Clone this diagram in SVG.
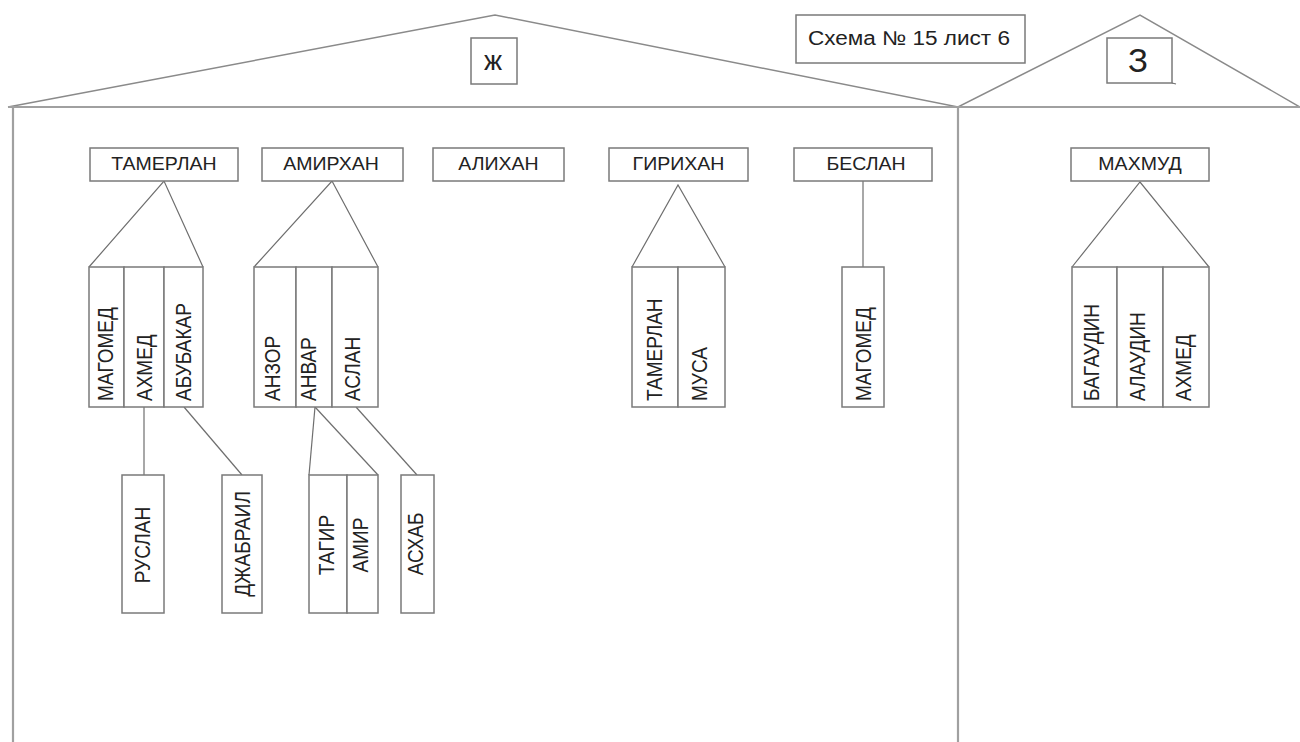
<svg xmlns="http://www.w3.org/2000/svg" width="1300" height="742" viewBox="0 0 1300 742">
<style>
.bg{fill:#fff}
.frame{fill:none;stroke:#8a8a8a;stroke-width:1.5}
.wall{fill:none;stroke:#a0a0a0;stroke-width:2.2}
.box{fill:#fff;stroke:#7a7a7a;stroke-width:1.5}
.ln{fill:none;stroke:#6e6e6e;stroke-width:1.2}
.t{font-family:"Liberation Sans",Arial,sans-serif;font-size:18px;fill:#222}
.v{font-size:19px}
.h{text-anchor:middle}
</style>
<rect class="bg" x="0" y="0" width="1300" height="742"/>
<g id="house">
  <polyline class="frame" points="8,107 495,15 958,107 1140,15 1300,107"/>
  <line class="wall" x1="8" y1="107" x2="1300" y2="107"/>
  <line class="wall" x1="13" y1="107" x2="13" y2="742"/>
  <line class="wall" x1="958" y1="107" x2="958" y2="742"/>
</g>
<g id="label-zh">
  <rect class="box" x="471" y="38" width="46" height="46"/>
  <text class="t h" x="493" y="70" style="font-size:27px">ж</text>
</g>
<g id="label-z">
  <rect class="box" x="1107" y="38" width="65" height="45"/>
  <line class="ln" x1="1172" y1="83" x2="1176" y2="84"/>
  <text class="t h" x="1138" y="72" style="font-size:33px">З</text>
</g>
<g id="title">
  <rect class="box" x="796" y="15" width="229" height="48"/>
  <text class="t" x="808" y="45" style="font-size:20px" textLength="202" lengthAdjust="spacingAndGlyphs">Схема № 15 лист 6</text>
</g>
<g id="connectors">
  <polyline class="ln" points="89,267 164,181 203,267"/>
  <polyline class="ln" points="254,267 332,181 378,267"/>
  <polyline class="ln" points="632,267 678,185 725,267"/>
  <line class="ln" x1="863" y1="181" x2="863" y2="267"/>
  <polyline class="ln" points="1072,267 1140,182 1209,267"/>
  <line class="ln" x1="144" y1="407" x2="144" y2="475"/>
  <line class="ln" x1="184" y1="407" x2="242" y2="475"/>
  <line class="ln" x1="315" y1="407" x2="309" y2="475"/>
  <line class="ln" x1="315" y1="407" x2="378" y2="475"/>
  <line class="ln" x1="356" y1="407" x2="417" y2="475"/>
</g>
<g id="n-tamerlan"><rect class="box" x="90" y="148" width="148" height="33"/><text class="t h" transform="translate(164,170) scale(1.085,1)">ТАМЕРЛАН</text></g>
<g id="n-amirkhan"><rect class="box" x="262" y="148" width="141" height="33"/><text class="t h" transform="translate(331,170) scale(1.085,1)">АМИРХАН</text></g>
<g id="n-alikhan"><rect class="box" x="433" y="148" width="131" height="33"/><text class="t h" transform="translate(498.5,170) scale(1.085,1)">АЛИХАН</text></g>
<g id="n-girikhan"><rect class="box" x="609" y="148" width="139" height="33"/><text class="t h" transform="translate(678.5,170) scale(1.085,1)">ГИРИХАН</text></g>
<g id="n-beslan"><rect class="box" x="794" y="148" width="138" height="33"/><text class="t h" transform="translate(866,170) scale(1.085,1)">БЕСЛАН</text></g>
<g id="n-makhmud"><rect class="box" x="1071" y="148" width="138" height="33"/><text class="t h" transform="translate(1140,170) scale(1.085,1)">МАХМУД</text></g>

<g id="n-magomed1"><rect class="box" x="89" y="267" width="35" height="140"/><text class="t v" transform="translate(113,401) scale(1.15,1) rotate(-90)">МАГОМЕД</text></g>
<g id="n-akhmed1"><rect class="box" x="124" y="267" width="40" height="140"/><text class="t v" transform="translate(152,401) scale(1.15,1) rotate(-90)">АХМЕД</text></g>
<g id="n-abubakar"><rect class="box" x="164" y="267" width="39" height="140"/><text class="t v" transform="translate(191,401) scale(1.15,1) rotate(-90)">АБУБАКАР</text></g>

<g id="n-anzor"><rect class="box" x="254" y="267" width="42" height="140"/><text class="t v" transform="translate(280,401) scale(1.15,1) rotate(-90)">АНЗОР</text></g>
<g id="n-anvar"><rect class="box" x="296" y="267" width="36" height="140"/><text class="t v" transform="translate(316,401) scale(1.15,1) rotate(-90)">АНВАР</text></g>
<g id="n-aslan"><rect class="box" x="332" y="267" width="46" height="140"/><text class="t v" transform="translate(360,401) scale(1.15,1) rotate(-90)">АСЛАН</text></g>

<g id="n-tamerlan2"><rect class="box" x="632" y="267" width="46" height="140"/><text class="t v" transform="translate(662,401) scale(1.15,1) rotate(-90)">ТАМЕРЛАН</text></g>
<g id="n-musa"><rect class="box" x="678" y="267" width="47" height="140"/><text class="t v" transform="translate(707,401) scale(1.15,1) rotate(-90)">МУСА</text></g>

<g id="n-magomed2"><rect class="box" x="842" y="267" width="42" height="140"/><text class="t v" transform="translate(871,401) scale(1.15,1) rotate(-90)">МАГОМЕД</text></g>

<g id="n-bagaudin"><rect class="box" x="1072" y="267" width="45" height="140"/><text class="t v" transform="translate(1099,401) scale(1.15,1) rotate(-90)">БАГАУДИН</text></g>
<g id="n-alaudin"><rect class="box" x="1117" y="267" width="46" height="140"/><text class="t v" transform="translate(1145,401) scale(1.15,1) rotate(-90)">АЛАУДИН</text></g>
<g id="n-akhmed2"><rect class="box" x="1163" y="267" width="46" height="140"/><text class="t v" transform="translate(1191,401) scale(1.15,1) rotate(-90)">АХМЕД</text></g>

<g id="n-ruslan"><rect class="box" x="122" y="475" width="42" height="138"/><text class="t v h" transform="translate(150,545) scale(1.15,1) rotate(-90)">РУСЛАН</text></g>
<g id="n-dzhabrail"><rect class="box" x="222" y="475" width="40" height="138"/><text class="t v h" transform="translate(250,544) scale(1.15,1) rotate(-90)">ДЖАБРАИЛ</text></g>
<g id="n-tagir"><rect class="box" x="309" y="475" width="38" height="138"/><text class="t v h" transform="translate(334,545) scale(1.15,1) rotate(-90)">ТАГИР</text></g>
<g id="n-amir"><rect class="box" x="347" y="475" width="31" height="138"/><text class="t v h" transform="translate(368,545) scale(1.15,1) rotate(-90)">АМИР</text></g>
<g id="n-askhab"><rect class="box" x="401" y="475" width="33" height="138"/><text class="t v h" transform="translate(423,544) scale(1.15,1) rotate(-90)">АСХАБ</text></g>
</svg>
